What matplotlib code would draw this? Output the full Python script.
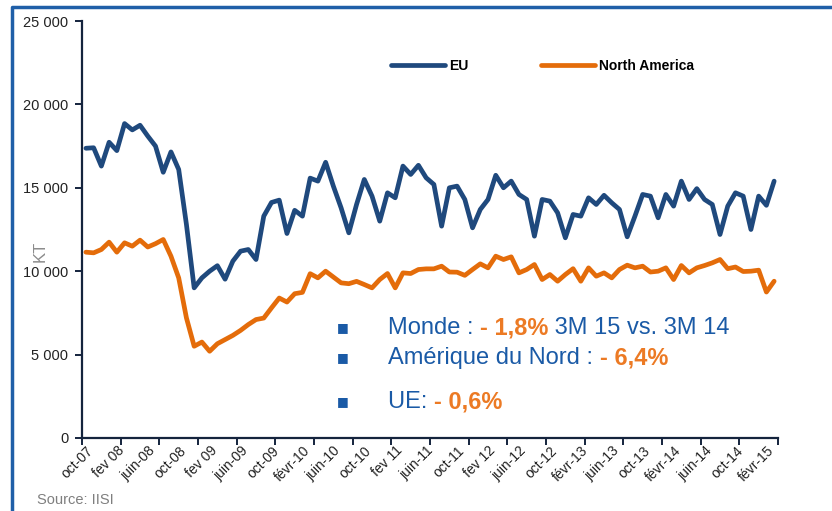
import matplotlib
matplotlib.use('Agg')
import matplotlib.pyplot as plt
from matplotlib.lines import Line2D

plt.rcParams['font.family'] = ['Liberation Sans', 'DejaVu Sans']

# monthly production, oct-07 .. mar-15 (KT)
eu = [17370, 17400, 16300, 17730, 17230, 18850, 18470, 18750, 18100, 17500,
      15930, 17150, 16100, 12800, 9000, 9600, 10000, 10330, 9520, 10600,
      11200, 11300, 10700, 13300, 14120, 14260, 12260, 13650, 13300, 15580,
      15400, 16530, 15100, 13800, 12300, 14000, 15500, 14500, 13000, 14700,
      14400, 16300, 15800, 16350, 15600, 15200, 12700, 15000, 15100, 14300,
      12600, 13700, 14300, 15750, 15000, 15400, 14600, 14300, 12100, 14300,
      14200, 13500, 12000, 13400, 13300, 14400, 14000, 14550, 14100, 13700,
      12060, 13300, 14600, 14500, 13200, 14600, 13900, 15400, 14300, 14950,
      14300, 14000, 12200, 13900, 14700, 14500, 12500, 14500, 13950, 15400]
north_america = [11140, 11100, 11300, 11740, 11140, 11700, 11500, 11860, 11450, 11650,
                 11900, 10900, 9600, 7200, 5500, 5750, 5200, 5650, 5900, 6150,
                 6450, 6800, 7100, 7190, 7800, 8390, 8150, 8650, 8730, 9850,
                 9600, 10000, 9650, 9300, 9250, 9390, 9200, 9000, 9500, 9860,
                 9000, 9900, 9860, 10100, 10140, 10140, 10300, 9950, 9940, 9750,
                 10100, 10440, 10200, 10900, 10700, 10860, 9900, 10100, 10400, 9500,
                 9800, 9400, 9800, 10150, 9400, 10200, 9700, 9900, 9600, 10100,
                 10360, 10200, 10300, 9950, 10000, 10200, 9500, 10340, 9900, 10200,
                 10340, 10500, 10700, 10150, 10250, 9980, 10000, 10060, 8750, 9400]
x_labels = ['oct-07', 'fev 08', 'juin-08', 'oct-08', 'fev 09', 'juin-09', 'oct-09',
            'févr-10', 'juin-10', 'oct-10', 'fev 11', 'juin-11', 'oct-11', 'fev 12',
            'juin-12', 'oct-12', 'févr-13', 'juin-13', 'oct-13', 'févr-14', 'juin-14',
            'oct-14', 'févr-15']
y_ticks = [0, 5000, 10000, 15000, 20000, 25000]

BLUE = '#1f497d'
ORANGE = '#e46c0a'
AXIS = '#14243d'
TXT_BLUE = '#1a5aa6'
TXT_ORANGE = '#ec7a24'
FRAME = '#1f5fa8'

fig = plt.figure(figsize=(8.32, 5.11), dpi=100)
ax = fig.add_axes([0.0986, 0.1429, 0.8365, 0.816])

# outer frame (left and top edges)
fig.add_artist(Line2D([12 / 832, 12 / 832, 1.0], [0.0, 1 - 7 / 511, 1 - 7 / 511],
                      transform=fig.transFigure, color=FRAME, lw=2.5))

months = list(range(len(eu)))
ax.plot(months, eu, color=BLUE, lw=3.4, solid_joinstyle='round', solid_capstyle='round', label='EU')
ax.plot(months, north_america, color=ORANGE, lw=3.4, solid_joinstyle='round',
        solid_capstyle='round', label='North America')

ax.set_xlim(-0.5, len(eu) - 0.5)
ax.set_ylim(0, 25000)
for s in ['top', 'right']:
    ax.spines[s].set_visible(False)
for s in ['left', 'bottom']:
    ax.spines[s].set_color(AXIS)
    ax.spines[s].set_linewidth(1.6)

ax.set_yticks(y_ticks)
ax.set_yticklabels(['{:,}'.format(v).replace(',', ' ') for v in y_ticks])
ax.tick_params(axis='y', direction='out', length=5, width=1.4, color=AXIS, labelsize=10.5,
               labelcolor='#222222', pad=5)

# tick marks every 5 months, labels every 4 months
ax.set_xticks([k * 5 - 0.5 for k in range(len(eu) // 5 + 1)])
ax.set_xticklabels([])
ax.set_xticks([k * 4 for k in range(len(x_labels))], minor=True)
ax.set_xticklabels(x_labels, minor=True, rotation=45, ha='right', va='top',
                   rotation_mode='anchor', fontsize=10, color='#222222')
ax.tick_params(axis='x', which='major', direction='out', length=5, width=1.4, color=AXIS)
ax.tick_params(axis='x', which='minor', length=0, pad=4)

ax.set_ylabel('KT', color='#8c8c8c', fontsize=12)
ax.yaxis.set_label_coords(-0.05, 0.448)

ax.legend(loc='center', bbox_to_anchor=(0.662, 0.892), ncol=2, frameon=False,
          handlelength=3.9, columnspacing=5.2, handletextpad=0.3,
          prop={'weight': 'bold', 'size': 10})

# annotation block
lines = [
    [('Monde : ', TXT_BLUE, 'normal'), ('- 1,8%', TXT_ORANGE, 'bold'), (' 3M 15 vs. 3M 14', TXT_BLUE, 'normal')],
    [('Amérique du Nord : ', TXT_BLUE, 'normal'), ('- 6,4%', TXT_ORANGE, 'bold')],
    [('UE: ', TXT_BLUE, 'normal'), ('- 0,6%', TXT_ORANGE, 'bold')],
]
line_y = [328, 358, 402]
for parts, py in zip(lines, line_y):
    yf = 1 - py / 511
    fig.text(343 / 832, yf, '■', color=TXT_BLUE, fontsize=9, ha='center', va='center',
             family=['DejaVu Sans'])
    prev = fig.text(388 / 832, yf, parts[0][0], color=parts[0][1], fontsize=17,
                    weight=parts[0][2], ha='left', va='center')
    for txt, col, w in parts[1:]:
        prev = ax.annotate(txt, xy=(1, 0), xycoords=prev, color=col, fontsize=17, weight=w,
                           ha='left', va='bottom', annotation_clip=False)

fig.text(37 / 832, 1 - 500 / 511, 'Source: IISI', color='#7f7f7f', fontsize=10.5,
         ha='left', va='center')

fig.savefig('out.png', dpi=100)
